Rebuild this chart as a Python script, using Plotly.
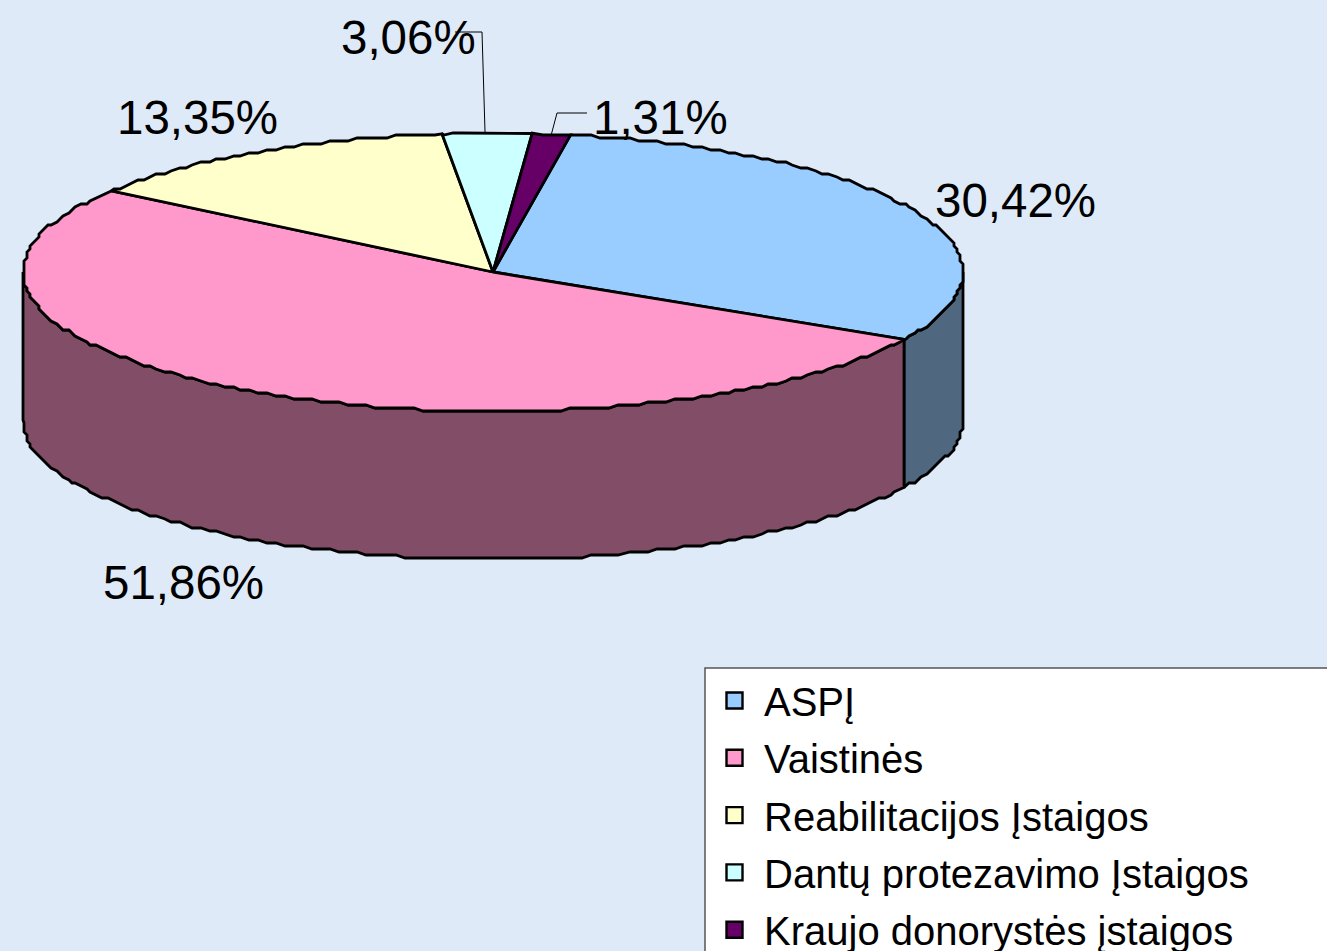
import numpy as np
import plotly.graph_objects as go

categories = ["ASPĮ", "Vaistinės", "Reabilitacijos Įstaigos", "Dantų protezavimo Įstaigos", "Kraujo donorystės įstaigos"]
values = [30.42, 51.86, 13.35, 3.06, 1.31]
top_colors = ["#99ccff", "#ff99cc", "#ffffcc", "#ccffff", "#660066"]
side_colors = ["#4f6880", "#824d66", "#808066", "#668080", "#330033"]

CX, CY, RX, RY, DEPTH, START = 493, 272, 470, 139, 148, 9.5
LABEL_POS = [(1015, 200), (183, 582), (197, 117), (408, 37), (660, 117)]
BG = "#dfeaf8"
SNAP = 3
STEP = 1.2


def pt(a, dy=0.0):
    r = np.radians(a)
    return CX + RX * np.sin(r), CY - RY * np.cos(r) + dy


def arc(a0, a1, dy=0.0):
    """Arc outline on a shared angle lattice, snapped to a coarse pixel grid (the reference's wobbly edge)."""
    lo, hi = min(a0, a1), max(a0, a1)
    t = np.arange(np.ceil(lo / STEP), np.floor(hi / STEP) + 1) * STEP
    t = t[(t > lo) & (t < hi)]
    x, y = pt(t, dy)
    x = np.clip(np.round(x / SNAP) * SNAP, CX - RX, CX + RX)
    y = np.clip(np.round(y / SNAP) * SNAP, CY - RY + dy, CY + RY + dy)
    xa, ya = pt(lo, dy)
    xb, yb = pt(hi, dy)
    x, y = np.r_[xa, x, xb], np.r_[ya, y, yb]
    return (x, y) if a0 <= a1 else (x[::-1], y[::-1])


edges = START + np.concatenate([[0], np.cumsum(values)]) * 3.6
fig = go.Figure()
outline = dict(color="black", width=2.8)

# walls of the front half (90..270 degrees clockwise from the top)
for i in range(len(values)):
    a0, a1 = max(edges[i], 90), min(edges[i + 1], 270)
    if a1 <= a0:
        continue
    xt, yt = arc(a0, a1)
    xb, yb = arc(a1, a0, DEPTH)
    fig.add_trace(go.Scatter(x=np.r_[xt, xb, xt[0]], y=np.r_[yt, yb, yt[0]], mode="lines", fill="toself",
                             fillcolor=side_colors[i], line=outline, showlegend=False, hoverinfo="skip"))

# top slices
for i in range(len(values)):
    xs, ys = arc(edges[i], edges[i + 1])
    fig.add_trace(go.Scatter(x=np.r_[CX, xs, CX], y=np.r_[CY, ys, CY], mode="lines", fill="toself",
                             fillcolor=top_colors[i], line=outline, name=categories[i],
                             showlegend=False, hoverinfo="name"))

# leader lines for the two small slices
mid3 = pt((edges[3] + edges[4]) / 2)
mid4 = pt((edges[4] + edges[5]) / 2)
fig.add_trace(go.Scatter(x=[455, 482, mid3[0] - 2], y=[32, 32, mid3[1]], mode="lines",
                         line=dict(color="black", width=1), showlegend=False, hoverinfo="skip"))
fig.add_trace(go.Scatter(x=[587, 557, mid4[0]], y=[113, 113, mid4[1]], mode="lines",
                         line=dict(color="black", width=1), showlegend=False, hoverinfo="skip"))

# legend entries
for i, c in enumerate(categories):
    fig.add_trace(go.Scatter(x=[None], y=[None], mode="markers", name=c, legendgroup=c,
                             marker=dict(symbol="square", size=18, color=top_colors[i],
                                         line=dict(color="black", width=2.4))))

annotations = [dict(x=p[0], y=p[1], xref="x", yref="y", showarrow=False,
                    text=f"{v:.2f}%".replace(".", ","), font=dict(size=47.5, color="black"))
               for p, v in zip(LABEL_POS, values)]

fig.update_layout(
    width=1327, height=951, margin=dict(l=0, r=0, t=0, b=0, autoexpand=False),
    paper_bgcolor=BG, plot_bgcolor=BG,
    font=dict(family="Liberation Sans"),
    xaxis=dict(range=[0, 1327], visible=False, fixedrange=True),
    yaxis=dict(range=[951, 0], visible=False, fixedrange=True),
    annotations=annotations,
    shapes=[dict(type="rect", xref="x", yref="y", x0=705, y0=668, x1=1345, y1=970,
                 fillcolor="white", line=dict(color="#555555", width=1.5), layer="below")],
    legend=dict(x=705 / 1327, xanchor="left", y=1 - 668 / 951, yanchor="top",
                bgcolor="rgba(0,0,0,0)", borderwidth=0,
                font=dict(size=40, color="black"), tracegroupgap=2.3, itemwidth=49),
)
fig.write_html("out.html", config=dict(displayModeBar=False),
               post_script=f"document.body.style.margin='0';document.body.style.background='{BG}';")
